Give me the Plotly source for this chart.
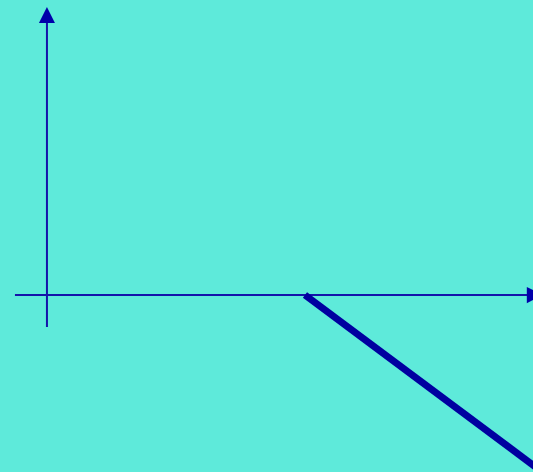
import plotly.graph_objects as go

# Payoff data (short call style: zero below strike, declining above)
strike = [100]
price = [100, 200]
payoff = [0, -100]

# axis extents (data units)
x_axis_span = [-12.4, 188.4]
y_axis_span = [-16.6, 143.0]

BG = "#5EEADA"
AX = "#1414AA"
LN = "#0000A0"
HEAD = "#0000AA"

fig = go.Figure()

# axes lines
fig.add_shape(type="line", x0=x_axis_span[0], x1=x_axis_span[1] + 2, y0=0, y1=0,
              line=dict(color=AX, width=2), layer="below")
fig.add_shape(type="line", x0=0, x1=0, y0=y_axis_span[0], y1=y_axis_span[1],
              line=dict(color=AX, width=2), layer="below")

# arrowheads (decorative triangles)
fig.add_shape(type="path", path="M -3.1,141.4 L 3.1,141.4 L 0,149.8 Z",
              fillcolor=HEAD, line=dict(width=0), layer="above")
fig.add_shape(type="path", path="M 186.0,-4.2 L 186.0,4.2 L 192.2,0 Z",
              fillcolor=HEAD, line=dict(width=0), layer="above")

# payoff line
fig.add_trace(go.Scatter(x=price, y=payoff, mode="lines",
                         line=dict(color=LN, width=7),
                         hoverinfo="skip", showlegend=False))

fig.update_layout(
    width=533, height=472,
    margin=dict(l=0, r=0, t=0, b=0),
    paper_bgcolor=BG, plot_bgcolor=BG,
    showlegend=False,
    xaxis=dict(range=[-18.2, 188.4], visible=False, fixedrange=True),
    yaxis=dict(range=[-92.0, 153.4], visible=False, fixedrange=True),
)

fig.write_html(
    "out.html",
    config={"displayModeBar": False},
    post_script="document.body.style.margin='0';document.body.style.overflow='hidden';",
)
